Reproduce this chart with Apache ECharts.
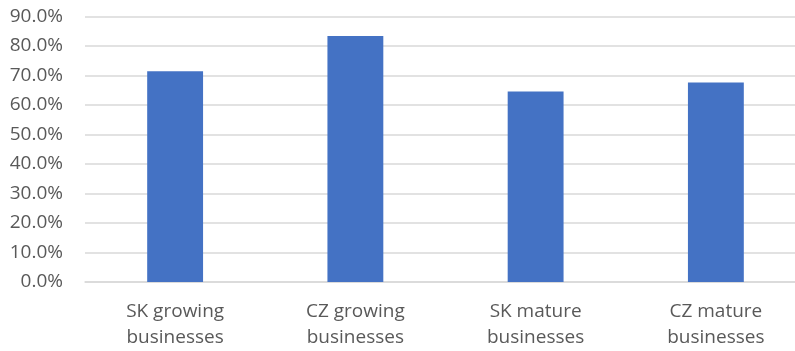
<!DOCTYPE html>
<html><head><meta charset="utf-8">
<script src="https://cdn.jsdelivr.net/npm/echarts@6/dist/echarts.min.js"></script>
<style>html,body{margin:0;padding:0;background:#fff;overflow:hidden;width:795px;height:351px}#c{width:806px;height:351px}</style>
</head><body><div id="c"></div>
<script>
const categories = ['SK growing\nbusinesses', 'CZ growing\nbusinesses', 'SK mature\nbusinesses', 'CZ mature\nbusinesses'];
const values = [0.714, 0.834, 0.646, 0.676];
const chart = echarts.init(document.getElementById('c'), null, {renderer: 'canvas'});
chart.setOption({
  animation: false,
  grid: {left: 85, right: 0, top: 16.5, bottom: 69},
  xAxis: {
    type: 'category', data: categories,
    axisLine: {show: true, lineStyle: {color: '#d9d9d9', width: 1.5}},
    axisTick: {show: false},
    axisLabel: {color: '#595959', fontFamily: 'Open Sans', fontSize: 19, lineHeight: 26, margin: 17}
  },
  yAxis: {
    type: 'value', min: 0, max: 0.9, interval: 0.1,
    axisLine: {show: false}, axisTick: {show: false},
    splitLine: {lineStyle: {color: '#d9d9d9', width: 1.5}},
    axisLabel: {color: '#595959', fontFamily: 'Open Sans', fontSize: 19, margin: 22,
      formatter: v => (v * 100).toFixed(1) + '%'}
  },
  series: [{type: 'bar', data: values, barWidth: '31%', itemStyle: {color: '#4472c4'}}]
});
</script></body></html>
